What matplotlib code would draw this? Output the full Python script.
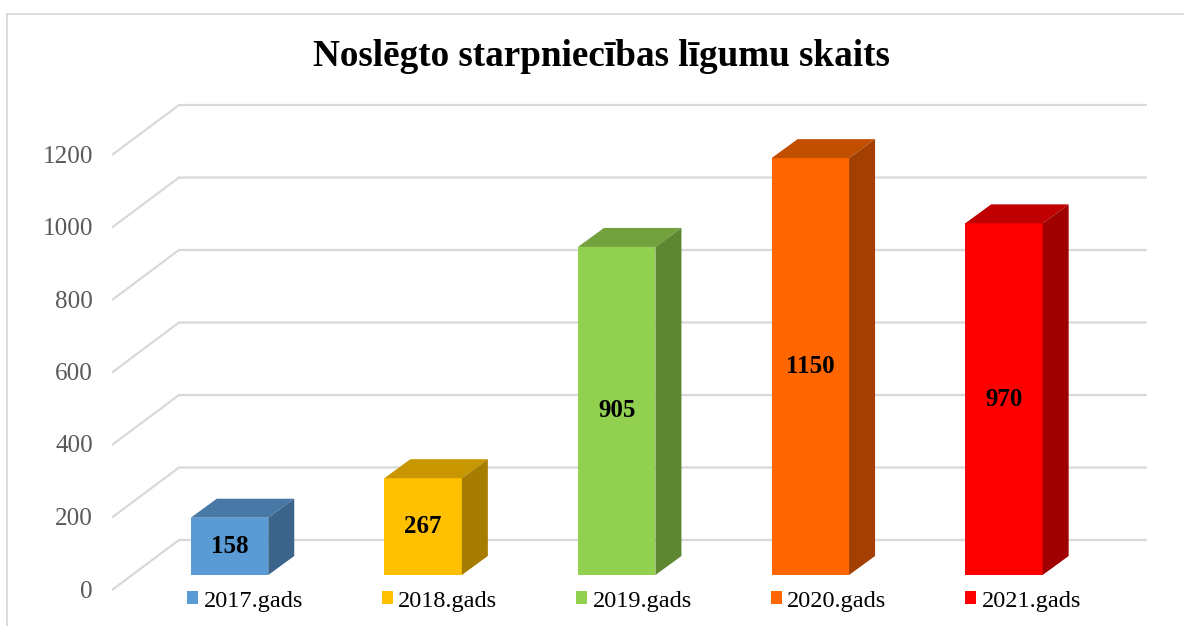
import matplotlib
matplotlib.use("Agg")
import matplotlib.pyplot as plt
from matplotlib.patches import Polygon, Patch
from matplotlib.lines import Line2D

plt.rcParams['font.family'] = ['Liberation Serif', 'DejaVu Serif']

# ---------------- data ----------------
title = "Noslēgto starpniecības līgumu skaits"
categories = ["2017.gads", "2018.gads", "2019.gads", "2020.gads", "2021.gads"]
values = [158, 267, 905, 1150, 970]
y_ticks = [0, 200, 400, 600, 800, 1000, 1200]

# ---------------- style ----------------
front_colors = ["#5B9BD5", "#FFC000", "#92D050", "#FF6600", "#FF0000"]
top_colors = ["#4878A6", "#C79600", "#72A13E", "#C24E00", "#C00000"]
side_colors = ["#3A6489", "#A67D00", "#5E8732", "#A33F00", "#A00000"]
grid_color = "#D9D9D9"
tick_color = "#595959"

W, H = 1184, 626
DPI = 100
# pixel geometry of the pseudo-3D projection
X0_PX = 229.5        # centre of first bar (px)
X_STEP_PX = 193.6    # distance between bar centres (px)
Y0_PX = 575.0        # baseline of bar fronts (px from top)
Y_SCALE = 0.3625     # px per value unit
BAR_W_PX = 77.5
BAR_DEPTH = (26.0, 19.0)        # px right, px up
FLOOR_FRONT = (-20.0, -15.0)    # offset of floor front from bar plane
WALL_BACK = (47.0, 35.0)        # offset of back wall from bar plane
FLOOR_LEFT_PX = 112.0
WALL_RIGHT_PX = 1147.0
LABEL_RIGHT_PX = 93.0

fig = plt.figure(figsize=(W / DPI, H / DPI), dpi=DPI)
ax = fig.add_axes([0, 0, 1, 1])
ax.set_xlim((0 - X0_PX) / X_STEP_PX, (W - X0_PX) / X_STEP_PX)
ax.set_ylim((Y0_PX - H) / Y_SCALE, Y0_PX / Y_SCALE)
ax.axis("off")


def dx(px):
    return px / X_STEP_PX


def dy(px):
    return px / Y_SCALE


def xpx(px):
    return (px - X0_PX) / X_STEP_PX


# outer chart border (top and left visible)
fig.add_artist(Line2D([6.5 / W, 6.5 / W], [0, 1 - 14 / H], color=grid_color, lw=1.3,
                      transform=fig.transFigure))
fig.add_artist(Line2D([6.5 / W, 1], [1 - 14 / H, 1 - 14 / H], color=grid_color, lw=1.3,
                      transform=fig.transFigure))

# gridlines on side + back wall, and tick labels
x_front = xpx(FLOOR_LEFT_PX)
x_back = x_front + dx(WALL_BACK[0] - FLOOR_FRONT[0])
x_right = xpx(WALL_RIGHT_PX)
for v in y_ticks:
    yf = v + dy(FLOOR_FRONT[1])
    yb = v + dy(WALL_BACK[1])
    ax.plot([x_front, x_back, x_right], [yf, yb, yb], color=grid_color, lw=1.6,
            solid_capstyle="butt", zorder=1)
    ax.text(xpx(LABEL_RIGHT_PX), yf - dy(1.5), str(v), ha="right", va="center",
            fontsize=18.1, color=tick_color)

# bars
xs = list(range(len(values)))
bw = BAR_W_PX / X_STEP_PX
ddx, ddy = dx(BAR_DEPTH[0]), dy(BAR_DEPTH[1])
ax.bar(xs, values, width=bw, color=front_colors, zorder=3, linewidth=0)
for i, v in enumerate(values):
    l, r = xs[i] - bw / 2, xs[i] + bw / 2
    ax.add_patch(Polygon([(l, v), (r, v), (r + ddx, v + ddy), (l + ddx, v + ddy)],
                         closed=True, facecolor=top_colors[i], edgecolor="none", zorder=3))
    ax.add_patch(Polygon([(r, 0), (r + ddx, ddy), (r + ddx, v + ddy), (r, v)],
                         closed=True, facecolor=side_colors[i], edgecolor="none", zorder=3))
    ax.text(xs[i], v / 2, str(v), ha="center", va="center", fontsize=18,
            fontweight="bold", color="black", zorder=5)

# title
fig.text(601 / W, 1 - 57 / H, title, ha="center", va="center", fontsize=26.7,
         fontweight="bold", color="black")

# legend
handles = [Patch(facecolor=c, edgecolor="none") for c in front_colors]
fig.legend(handles, categories, loc="center", bbox_to_anchor=(634 / W, 1 - 601 / H),
           ncol=5, frameon=False, fontsize=17.5, handlelength=0.45, handleheight=0.45,
           handletextpad=0.23, columnspacing=3.24, borderpad=0)

fig.savefig("out.png", dpi=DPI)
